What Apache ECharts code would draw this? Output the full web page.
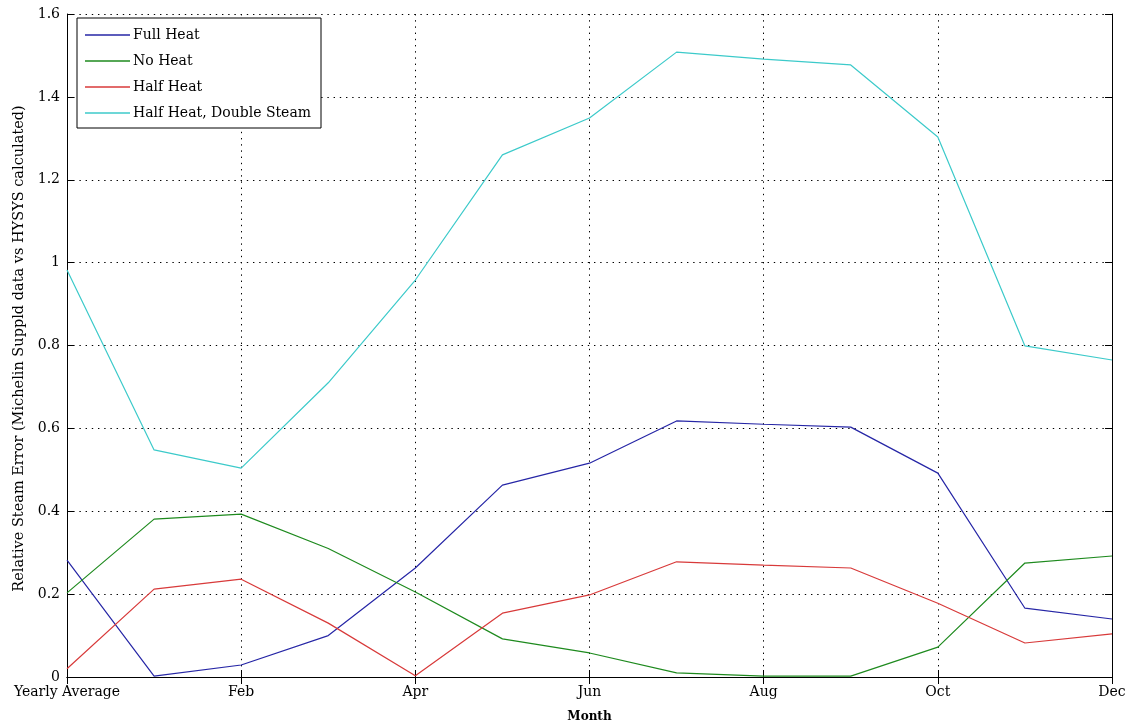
<!DOCTYPE html>
<html>
<head>
<meta charset="utf-8">
<script src="https://cdn.jsdelivr.net/npm/echarts@6/dist/echarts.min.js"></script>
<style>html,body{margin:0;padding:0;background:#fff;}#c{width:1133px;height:727px;}</style>
</head>
<body>
<div id="c"></div>
<script>
const categories = ['Yearly Average','Jan','Feb','Mar','Apr','May','Jun','Jul','Aug','Sep','Oct','Nov','Dec'];
const fullHeat = [0.282, 0.002, 0.029, 0.10, 0.263, 0.463, 0.516, 0.618, 0.610, 0.603, 0.492, 0.166, 0.140];
const noHeat   = [0.203, 0.381, 0.393, 0.310, 0.205, 0.092, 0.058, 0.010, 0.002, 0.002, 0.072, 0.275, 0.292];
const halfHeat = [0.020, 0.212, 0.236, 0.130, 0.003, 0.154, 0.198, 0.278, 0.270, 0.263, 0.178, 0.082, 0.104];
const halfHeatDoubleSteam = [0.982, 0.548, 0.504, 0.710, 0.958, 1.260, 1.349, 1.508, 1.491, 1.477, 1.303, 0.799, 0.765];
const yTicks = [0, 0.2, 0.4, 0.6, 0.8, 1, 1.2, 1.4, 1.6];

const serif = '"DejaVu Serif","Liberation Serif",serif';
const chart = echarts.init(document.getElementById('c'));
const dotted = {color:'#000', width:1, type:[1.4,4.8]};
function mkSeries(name, data, color){
  return {name, type:'line', data, symbol:'none', smooth:false, xAxisIndex:0, yAxisIndex:0,
    lineStyle:{color, width:1.2}, itemStyle:{color}};
}
chart.setOption({
  animation:false,
  backgroundColor:'#fff',
  grid:{left:67, right:21, top:14, bottom:50, containLabel:false, outerBoundsMode:'none'},
  legend:{
    orient:'vertical', left:77, top:18,
    padding:[8,10,6,8], itemGap:8,
    itemWidth:45, itemHeight:1.5, icon:'rect',
    borderColor:'#000', borderWidth:1, backgroundColor:'#fff',
    textStyle:{fontFamily:serif, fontSize:14, color:'#000', lineHeight:18, padding:[0,0,0,-2]},
    data:['Full Heat','No Heat','Half Heat','Half Heat, Double Steam']
  },
  xAxis:[{
    type:'category', data:categories, boundaryGap:false,
    name:'Month', nameLocation:'middle', nameGap:34,
    nameTextStyle:{fontFamily:serif, fontSize:12, color:'#000', fontWeight:'bold'},
    axisLine:{lineStyle:{color:'#000', width:1}},
    axisTick:{inside:true, length:7, interval:1, lineStyle:{color:'#000'}},
    axisLabel:{interval:1, fontFamily:serif, fontSize:14, color:'#000', margin:8},
    splitLine:{show:true, interval:1, lineStyle:dotted}
  },{
    type:'category', data:categories, boundaryGap:false, position:'top',
    axisLine:{lineStyle:{color:'#000', width:1}},
    axisTick:{inside:true, length:7, interval:1, lineStyle:{color:'#000'}},
    axisLabel:{show:false}, splitLine:{show:false}
  }],
  yAxis:[{
    type:'value', min:0, max:1.6, interval:0.2,
    name:'Relative Steam Error (Michelin Suppld data vs HYSYS calculated)',
    nameLocation:'middle', nameGap:40,
    nameTextStyle:{fontFamily:serif, fontSize:14.5, color:'#000', padding:[0,0,0,-6]},
    axisLine:{show:true, lineStyle:{color:'#000', width:1}},
    axisTick:{show:true, inside:true, length:7, lineStyle:{color:'#000'}},
    axisLabel:{fontFamily:serif, fontSize:14, color:'#000', margin:7,
      formatter:function(v){ const t = yTicks.find(x=>Math.abs(x-v)<1e-9); return String(t!==undefined?t:+v.toFixed(1)); }},
    splitLine:{show:true, lineStyle:dotted}
  },{
    type:'value', min:0, max:1.6, interval:0.2, position:'right',
    axisLine:{show:true, lineStyle:{color:'#000', width:1}},
    axisTick:{show:true, inside:true, length:7, lineStyle:{color:'#000'}},
    axisLabel:{show:false}, splitLine:{show:false}
  }],
  series:[
    mkSeries('Full Heat', fullHeat, '#2626a6'),
    mkSeries('No Heat', noHeat, '#1e8a1e'),
    mkSeries('Half Heat', halfHeat, '#d83a3a'),
    mkSeries('Half Heat, Double Steam', halfHeatDoubleSteam, '#3ccaca')
  ]
});
</script>
</body>
</html>
